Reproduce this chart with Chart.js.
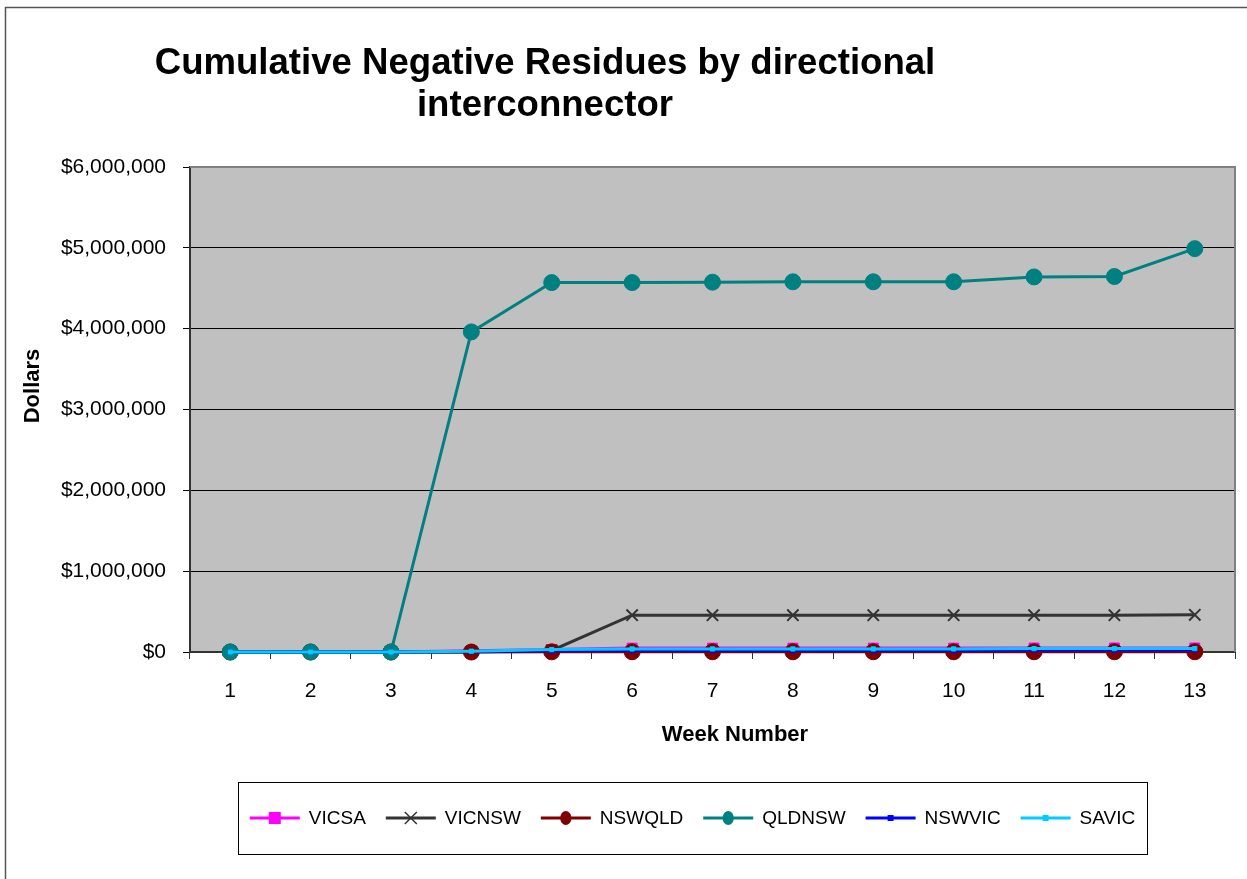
<!DOCTYPE html>
<html>
<head>
<meta charset="utf-8">
<script src="https://cdn.jsdelivr.net/npm/chart.js@4.4.0/dist/chart.umd.min.js"></script>
<style>
  html, body { margin: 0; padding: 0; background: #fff; }
  #wrap { width: 1247px; height: 879px; position: relative; }
</style>
</head>
<body>
<div id="wrap"><canvas id="residues-chart"></canvas></div>
<script>
const weeks = ['1', '2', '3', '4', '5', '6', '7', '8', '9', '10', '11', '12', '13'];
const vicsa = [0, 0, 0, 15000, 30000, 48000, 48000, 48000, 48000, 48000, 50000, 50000, 50000];
const vicnsw = [0, 0, 0, 0, 20000, 455000, 455000, 455000, 455000, 455000, 455000, 455000, 460000];
const nswqld = [0, 0, 0, 0, 2000, 3000, 3000, 3000, 3000, 3000, 3000, 3000, 3000];
const qldnsw = [0, 0, 0, 3960000, 4570000, 4570000, 4575000, 4580000, 4580000, 4580000, 4640000, 4645000, 4990000];
const nswvic = [0, 0, 0, 5000, 15000, 20000, 20000, 20000, 20000, 20000, 25000, 25000, 25000];
const savic = [0, 0, 0, 10000, 30000, 38000, 38000, 38000, 38000, 38000, 42000, 42000, 42000];
const seriesNames = ['VICSA', 'VICNSW', 'NSWQLD', 'QLDNSW', 'NSWVIC', 'SAVIC'];
const yTicks = [0, 1000000, 2000000, 3000000, 4000000, 5000000, 6000000];

const FONT = '"Liberation Sans", Arial, sans-serif';

const makeSet = (label, data, color, style, radius, order) => ({
    label: label,
    data: data,
    borderColor: color,
    backgroundColor: color,
    pointBackgroundColor: color,
    pointBorderColor: color,
    pointStyle: style,
    pointRadius: radius,
    pointHoverRadius: radius,
    pointBorderWidth: style === 'crossRot' ? 2 : 1,
    borderWidth: 3,
    tension: 0,
    fill: false,
    clip: false,
    order: order
});

const datasets = [
    makeSet(seriesNames[0], vicsa, '#FF00FF', 'rect', 7, 6),
    makeSet(seriesNames[1], vicnsw, '#333333', 'crossRot', 8, 5),
    makeSet(seriesNames[2], nswqld, '#800000', 'circle', 8, 4),
    makeSet(seriesNames[3], qldnsw, '#008080', 'circle', 8, 3),
    makeSet(seriesNames[4], nswvic, '#0000FF', 'rect', 3, 2),
    makeSet(seriesNames[5], savic, '#00CCFF', 'rect', 3, 1)
];

const drawMarker = (ctx, style, x, y, r, color) => {
    ctx.save();
    ctx.fillStyle = color;
    ctx.strokeStyle = color;
    if (style === 'rect') {
        ctx.fillRect(x - r, y - r, 2 * r, 2 * r);
    } else if (style === 'circle') {
        ctx.beginPath();
        ctx.ellipse(x, y, r * 0.8, r, 0, 0, Math.PI * 2);
        ctx.fill();
    } else if (style === 'crossRot') {
        ctx.lineWidth = 1.5;
        ctx.beginPath();
        ctx.moveTo(x - r, y - r);
        ctx.lineTo(x + r, y + r);
        ctx.moveTo(x + r, y - r);
        ctx.lineTo(x - r, y + r);
        ctx.stroke();
    }
    ctx.restore();
};

// plot background, frame, titles and the boxed legend
const decorPlugin = {
    id: 'decor',
    beforeDraw(chart) {
        const ctx = chart.ctx;
        const a = chart.chartArea;
        ctx.save();
        ctx.fillStyle = '#fff';
        ctx.fillRect(0, 0, chart.width, chart.height);
        ctx.strokeStyle = '#555';
        ctx.lineWidth = 1.5;
        ctx.strokeRect(5.5, 7.5, chart.width + 20, chart.height + 20);
        ctx.fillStyle = '#C0C0C0';
        ctx.fillRect(a.left, a.top, a.right - a.left, a.bottom - a.top);
        ctx.restore();
    },
    afterDraw(chart) {
        const ctx = chart.ctx;
        const a = chart.chartArea;
        ctx.save();
        // gray frame top/right
        ctx.strokeStyle = '#808080';
        ctx.lineWidth = 2;
        ctx.beginPath();
        ctx.moveTo(a.left, a.top);
        ctx.lineTo(a.right, a.top);
        ctx.lineTo(a.right, a.bottom);
        ctx.stroke();

        // titles
        ctx.fillStyle = '#000';
        ctx.textAlign = 'center';
        ctx.textBaseline = 'middle';
        ctx.font = 'bold 36.6px ' + FONT;
        ctx.fillText('Cumulative Negative Residues by directional', 545, 64);
        ctx.fillText('interconnector', 545, 106);
        ctx.font = 'bold 22px ' + FONT;
        ctx.fillText('Week Number', 735, 735);
        ctx.save();
        ctx.translate(33, 386);
        ctx.rotate(-Math.PI / 2);
        ctx.fillText('Dollars', 0, 0);
        ctx.restore();

        // legend box
        const bx = 238, by = 782, bw = 909, bh = 72;
        ctx.strokeStyle = '#000';
        ctx.lineWidth = 1;
        ctx.strokeRect(bx + 0.5, by + 0.5, bw, bh);
        ctx.font = '19px ' + FONT;
        ctx.textAlign = 'left';
        const lineLen = 50, gap = 9, spacing = 20;
        const widths = chart.data.datasets.map(d => lineLen + gap + ctx.measureText(d.label).width);
        const total = widths.reduce((s, w) => s + w, 0) + spacing * (widths.length - 1);
        let x = bx + (bw - total) / 2;
        const cy = by + bh / 2;
        chart.data.datasets.forEach((d, i) => {
            ctx.strokeStyle = d.borderColor;
            ctx.lineWidth = 3;
            ctx.beginPath();
            ctx.moveTo(x, cy);
            ctx.lineTo(x + lineLen, cy);
            ctx.stroke();
            const r = d.pointStyle === 'rect' ? (d.pointRadius > 4 ? 6 : 3) : (d.pointStyle === 'circle' ? 7 : 6);
            drawMarker(ctx, d.pointStyle, x + lineLen / 2, cy, r, d.borderColor);
            ctx.fillStyle = '#000';
            ctx.fillText(d.label, x + lineLen + gap, cy + 1);
            x += widths[i] + spacing;
        });
        ctx.restore();
    }
};

const config = {
    type: 'line',
    data: {
        labels: weeks,
        datasets: datasets
    },
    options: {
        responsive: true,
        maintainAspectRatio: false,
        animation: false,
        events: [],
        layout: {
            padding: { top: 167, right: 12, bottom: 167, left: 0 }
        },
        plugins: {
            legend: { display: false },
            title: { display: false },
            tooltip: { enabled: false }
        },
        scales: {
            x: {
                type: 'category',
                offset: true,
                afterFit: scale => { scale.height = 60; },
                grid: {
                    offset: true,
                    drawOnChartArea: false,
                    drawTicks: true,
                    tickLength: 7,
                    color: '#333'
                },
                border: { color: '#333', width: 2 },
                ticks: {
                    color: '#000',
                    padding: 20,
                    maxRotation: 0,
                    font: { family: FONT, size: 21 }
                }
            },
            y: {
                min: 0,
                max: 6000000,
                afterFit: scale => { scale.width = 190; },
                afterBuildTicks: scale => { scale.ticks = yTicks.map(v => ({ value: v })); },
                grid: {
                    color: '#000',
                    lineWidth: 1,
                    tickLength: 7,
                    drawTicks: true
                },
                border: { color: '#333', width: 2 },
                ticks: {
                    color: '#000',
                    padding: 17,
                    font: { family: FONT, size: 21 },
                    callback: v => '$' + Number(v).toLocaleString('en-US')
                }
            }
        }
    },
    plugins: [decorPlugin]
};

const residuesChart = new Chart(document.getElementById('residues-chart').getContext('2d'), config);
</script>
</body>
</html>
